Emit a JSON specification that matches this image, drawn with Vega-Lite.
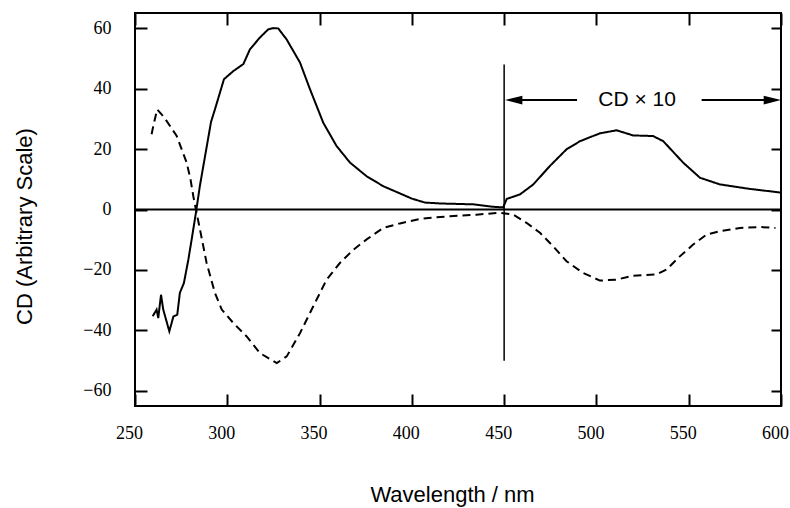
{
  "$schema": "https://vega.github.io/schema/vega-lite/v6.json",
  "width": 646,
  "height": 393,
  "autosize": {"type": "none"},
  "padding": {"left": 135, "top": 13, "right": 9, "bottom": 102},
  "background": "white",
  "config": {
    "view": {"stroke": "black", "strokeWidth": 2},
    "axis": {
      "grid": false,
      "domain": false,
      "tickColor": "black",
      "tickWidth": 2,
      "labelFont": "Liberation Serif",
      "labelFontSize": 18,
      "labelColor": "black",
      "titleFont": "Liberation Sans",
      "titleFontWeight": "normal",
      "titleFontSize": 22,
      "titleColor": "black"
    }
  },
  "resolve": {"axis": {"x": "independent", "y": "independent"}},
  "layer": [
    {
      "data": {
        "values": [
          {"s": "solid", "w": 259.6, "cd": -35.3},
          {"s": "solid", "w": 261.7, "cd": -33.1},
          {"s": "solid", "w": 262.6, "cd": -35.9},
          {"s": "solid", "w": 264.1, "cd": -28.2},
          {"s": "solid", "w": 265.3, "cd": -33.1},
          {"s": "solid", "w": 268.6, "cd": -40.3},
          {"s": "solid", "w": 270.8, "cd": -35.4},
          {"s": "solid", "w": 272.9, "cd": -34.8},
          {"s": "solid", "w": 274.3, "cd": -27.6},
          {"s": "solid", "w": 276.5, "cd": -24.3},
          {"s": "solid", "w": 278.9, "cd": -16.6},
          {"s": "solid", "w": 280.7, "cd": -9.9},
          {"s": "solid", "w": 283.0, "cd": -1.1},
          {"s": "solid", "w": 285.2, "cd": 8.0},
          {"s": "solid", "w": 288.6, "cd": 19.9},
          {"s": "solid", "w": 291.2, "cd": 29.0},
          {"s": "solid", "w": 293.3, "cd": 33.1},
          {"s": "solid", "w": 298.2, "cd": 43.1},
          {"s": "solid", "w": 303.3, "cd": 45.8},
          {"s": "solid", "w": 308.7, "cd": 48.1},
          {"s": "solid", "w": 312.3, "cd": 53.0},
          {"s": "solid", "w": 317.7, "cd": 56.9},
          {"s": "solid", "w": 322.2, "cd": 59.6},
          {"s": "solid", "w": 325.0, "cd": 60.0},
          {"s": "solid", "w": 327.6, "cd": 59.9},
          {"s": "solid", "w": 332.1, "cd": 56.3},
          {"s": "solid", "w": 339.4, "cd": 48.6},
          {"s": "solid", "w": 344.8, "cd": 39.8},
          {"s": "solid", "w": 352.0, "cd": 28.7},
          {"s": "solid", "w": 359.2, "cd": 21.0},
          {"s": "solid", "w": 366.5, "cd": 15.5},
          {"s": "solid", "w": 375.5, "cd": 11.0},
          {"s": "solid", "w": 384.5, "cd": 7.7},
          {"s": "solid", "w": 393.6, "cd": 5.3},
          {"s": "solid", "w": 400.0, "cd": 3.6},
          {"s": "solid", "w": 407.0, "cd": 2.3},
          {"s": "solid", "w": 415.2, "cd": 2.0},
          {"s": "solid", "w": 433.3, "cd": 1.7},
          {"s": "solid", "w": 444.1, "cd": 0.9},
          {"s": "solid", "w": 449.5, "cd": 0.7},
          {"s": "solid", "w": 451.4, "cd": 3.5},
          {"s": "solid", "w": 458.6, "cd": 5.0},
          {"s": "solid", "w": 465.8, "cd": 8.3},
          {"s": "solid", "w": 474.8, "cd": 14.4},
          {"s": "solid", "w": 483.8, "cd": 19.9},
          {"s": "solid", "w": 491.1, "cd": 22.6},
          {"s": "solid", "w": 501.9, "cd": 25.2},
          {"s": "solid", "w": 510.9, "cd": 26.2},
          {"s": "solid", "w": 519.9, "cd": 24.5},
          {"s": "solid", "w": 530.7, "cd": 24.3},
          {"s": "solid", "w": 536.2, "cd": 22.6},
          {"s": "solid", "w": 547.0, "cd": 15.5},
          {"s": "solid", "w": 556.1, "cd": 10.5},
          {"s": "solid", "w": 566.9, "cd": 8.3},
          {"s": "solid", "w": 583.2, "cd": 6.8},
          {"s": "solid", "w": 600.0, "cd": 5.6},
          {"s": "dashed", "w": 259.0, "cd": 24.9},
          {"s": "dashed", "w": 259.9, "cd": 27.6},
          {"s": "dashed", "w": 262.0, "cd": 33.1},
          {"s": "dashed", "w": 264.4, "cd": 31.5},
          {"s": "dashed", "w": 267.1, "cd": 29.3},
          {"s": "dashed", "w": 272.6, "cd": 24.3},
          {"s": "dashed", "w": 278.0, "cd": 15.5},
          {"s": "dashed", "w": 280.1, "cd": 9.9},
          {"s": "dashed", "w": 281.6, "cd": 4.4},
          {"s": "dashed", "w": 283.0, "cd": 0.0},
          {"s": "dashed", "w": 285.2, "cd": -6.6},
          {"s": "dashed", "w": 288.8, "cd": -17.7},
          {"s": "dashed", "w": 293.3, "cd": -27.6},
          {"s": "dashed", "w": 297.0, "cd": -33.1},
          {"s": "dashed", "w": 303.2, "cd": -37.5},
          {"s": "dashed", "w": 310.5, "cd": -42.0},
          {"s": "dashed", "w": 317.7, "cd": -47.5},
          {"s": "dashed", "w": 326.8, "cd": -50.8},
          {"s": "dashed", "w": 332.2, "cd": -48.6},
          {"s": "dashed", "w": 339.4, "cd": -40.9},
          {"s": "dashed", "w": 346.6, "cd": -32.0},
          {"s": "dashed", "w": 353.8, "cd": -23.2},
          {"s": "dashed", "w": 361.0, "cd": -17.7},
          {"s": "dashed", "w": 368.3, "cd": -13.3},
          {"s": "dashed", "w": 375.5, "cd": -9.9},
          {"s": "dashed", "w": 384.5, "cd": -6.1},
          {"s": "dashed", "w": 393.6, "cd": -4.6},
          {"s": "dashed", "w": 404.4, "cd": -3.1},
          {"s": "dashed", "w": 420.6, "cd": -2.2},
          {"s": "dashed", "w": 435.0, "cd": -1.7},
          {"s": "dashed", "w": 447.7, "cd": -1.1},
          {"s": "dashed", "w": 454.9, "cd": -1.7},
          {"s": "dashed", "w": 462.1, "cd": -4.4},
          {"s": "dashed", "w": 469.4, "cd": -7.7},
          {"s": "dashed", "w": 476.6, "cd": -12.2},
          {"s": "dashed", "w": 483.8, "cd": -17.1},
          {"s": "dashed", "w": 492.8, "cd": -21.0},
          {"s": "dashed", "w": 501.9, "cd": -23.5},
          {"s": "dashed", "w": 510.9, "cd": -23.2},
          {"s": "dashed", "w": 519.9, "cd": -21.9},
          {"s": "dashed", "w": 532.5, "cd": -21.5},
          {"s": "dashed", "w": 537.9, "cd": -19.9},
          {"s": "dashed", "w": 545.2, "cd": -15.5},
          {"s": "dashed", "w": 552.4, "cd": -11.6},
          {"s": "dashed", "w": 559.6, "cd": -8.3},
          {"s": "dashed", "w": 566.9, "cd": -7.2},
          {"s": "dashed", "w": 577.7, "cd": -6.1},
          {"s": "dashed", "w": 588.6, "cd": -5.8},
          {"s": "dashed", "w": 597.0, "cd": -6.1}
        ]
      },
      "mark": {"type": "line", "strokeWidth": 2, "color": "black", "clip": true},
      "encoding": {
        "x": {
          "field": "w", "type": "quantitative",
          "scale": {"domain": [250, 600], "nice": false, "zero": false},
          "axis": {
            "orient": "bottom",
            "values": [250, 300, 350, 400, 450, 500, 550, 600],
            "tickSize": -12,
            "labelPadding": 30,
            "labelOffset": -6,
            "labelFlush": false,
            "title": "Wavelength / nm",
            "titleX": 317,
            "titleY": 95,
            "titleBaseline": "alphabetic",
            "titleAnchor": null
          }
        },
        "y": {
          "field": "cd", "type": "quantitative",
          "scale": {"domain": [-65, 65], "nice": false, "zero": false},
          "axis": {
            "orient": "left",
            "values": [-60, -40, -20, 0, 20, 40, 60],
            "tickSize": -12,
            "labelPadding": 36,
            "title": "CD (Arbitrary Scale)",
            "titleX": -111,
            "titleY": 213,
            "titleAngle": -90,
            "titleAlign": "center",
            "titleBaseline": "middle",
            "titleAnchor": null
          }
        },
        "detail": {"field": "s"},
        "strokeDash": {
          "field": "s", "type": "nominal",
          "scale": {"domain": ["solid", "dashed"], "range": [[1, 0], [8, 5]]},
          "legend": null
        }
      }
    },
    {
      "data": {"values": [{}]},
      "mark": {"type": "rule", "strokeWidth": 1.5, "color": "black"},
      "encoding": {
        "x": {
          "datum": 450, "type": "quantitative",
          "axis": {
            "orient": "top",
            "values": [250, 300, 350, 400, 450, 500, 550, 600],
            "tickSize": -12,
            "labels": false,
            "title": null
          }
        },
        "y": {"datum": 48, "type": "quantitative", "axis": null},
        "y2": {"datum": -50}
      }
    },
    {
      "data": {"values": [{}]},
      "mark": {"type": "rule", "strokeWidth": 2, "color": "black"},
      "encoding": {
        "y": {
          "datum": 0, "type": "quantitative",
          "axis": {
            "orient": "right",
            "values": [-60, -40, -20, 0, 20, 40, 60],
            "tickSize": -10,
            "labels": false,
            "title": null
          }
        }
      }
    },
    {
      "data": {"values": [{}]},
      "mark": {"type": "rule", "strokeWidth": 2, "color": "black"},
      "encoding": {
        "x": {"datum": 455, "type": "quantitative", "axis": null},
        "x2": {"datum": 489.5},
        "y": {"datum": 36.2, "type": "quantitative", "axis": null}
      }
    },
    {
      "data": {"values": [{}]},
      "mark": {"type": "rule", "strokeWidth": 2, "color": "black"},
      "encoding": {
        "x": {"datum": 557, "type": "quantitative", "axis": null},
        "x2": {"datum": 595},
        "y": {"datum": 36.2, "type": "quantitative", "axis": null}
      }
    },
    {
      "data": {"values": [{}]},
      "mark": {"type": "point", "shape": "M0,0L2,-0.5L2,0.5Z", "size": 300, "filled": true, "fill": "black", "strokeWidth": 0, "opacity": 1},
      "encoding": {
        "x": {"datum": 450.5, "type": "quantitative", "axis": null},
        "y": {"datum": 36.2, "type": "quantitative", "axis": null}
      }
    },
    {
      "data": {"values": [{}]},
      "mark": {"type": "point", "shape": "M0,0L-2,-0.5L-2,0.5Z", "size": 300, "filled": true, "fill": "black", "strokeWidth": 0, "opacity": 1},
      "encoding": {
        "x": {"datum": 600, "type": "quantitative", "axis": null},
        "y": {"datum": 36.2, "type": "quantitative", "axis": null}
      }
    },
    {
      "data": {"values": [{}]},
      "mark": {"type": "text", "text": "CD × 10", "font": "Liberation Sans", "fontSize": 21, "fontWeight": "normal", "fill": "black", "align": "center", "baseline": "middle"},
      "encoding": {
        "x": {"datum": 522, "type": "quantitative", "axis": null},
        "y": {"datum": 36.2, "type": "quantitative", "axis": null}
      }
    }
  ]
}
